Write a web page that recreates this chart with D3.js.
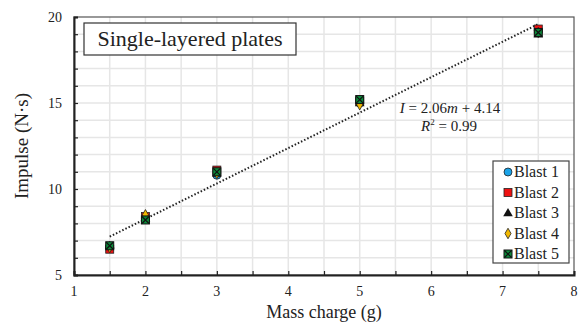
<!DOCTYPE html>
<meta charset="utf-8">
<style>
    body { margin: 0; background: #fff; overflow: hidden; }
</style>
<svg id="canvas" width="579" height="322" font-family="'Liberation Serif', 'Times New Roman', serif"></svg>
<script src="https://d3js.org/d3.v7.min.js"></script>
<script>

    var charges = [1.5, 2, 3, 5, 7.5];
    var seriesNames = ["Blast 1", "Blast 2", "Blast 3", "Blast 4", "Blast 5"];
    var blast1 = [6.6, 8.3, 10.8, 15.0, 19.2];
    var blast2 = [6.5, 8.4, 11.1, 15.1, 19.3];
    var blast3 = [6.7, 8.3, 10.9, 15.0, 19.0];
    var blast4 = [6.6, 8.5, 10.9, 14.9, 19.1];
    var blast5 = [6.7, 8.2, 11.0, 15.2, 19.1];
    var xTicks = [1, 2, 3, 4, 5, 6, 7, 8];
    var yTicks = [5, 10, 15, 20];
    var fitSlope = 2.06, fitIntercept = 4.14, fitR2 = 0.99;

    var serif = "'Liberation Serif', 'Times New Roman', serif";
    var svg = d3.select("svg");
    var margin = {left: 74, right: 5, top: 17, bottom: 47};
    var width = 579, height = 322;

    var x = d3.scaleLinear().domain([1, 8]).range([margin.left, width - margin.right]);
    var y = d3.scaleLinear().domain([5, 20]).range([height - margin.bottom, margin.top]);

    function label(g, px, py, size, anchor) {
        return g.append("text").attr("x", px).attr("y", py)
            .attr("font-family", serif).attr("font-size", size)
            .attr("text-anchor", anchor || "start").attr("fill", "#222");
    }

    // grid
    var grid = svg.append("g");
    grid.selectAll("line.v").data(d3.range(1.5, 8, 0.5)).enter().append("line")
        .attr("x1", d => x(d)).attr("x2", d => x(d))
        .attr("y1", y(5)).attr("y2", y(20))
        .attr("stroke", "#e6e6e6").attr("stroke-width", 1.5);
    grid.selectAll("line.h").data(d3.range(6, 20, 1)).enter().append("line")
        .attr("x1", x(1)).attr("x2", x(8))
        .attr("y1", d => y(d)).attr("y2", d => y(d))
        .attr("stroke", "#e6e6e6").attr("stroke-width", 1.5);

    // frame
    svg.append("rect")
        .attr("x", x(1)).attr("y", y(20))
        .attr("width", x(8) - x(1)).attr("height", y(5) - y(20))
        .attr("fill", "none").attr("stroke", "#555").attr("stroke-width", 1.2);

    // axes
    var xAxis = svg.append("g").attr("transform", "translate(0," + y(5) + ")")
        .call(d3.axisBottom(x).tickValues(d3.range(1, 8.01, 0.5)).tickSize(-4).tickFormat(""));
    xAxis.select(".domain").attr("stroke", "#222").attr("stroke-width", 2);
    xAxis.selectAll(".tick line").attr("stroke", "#222").attr("stroke-width", 1.2);
    var xl = svg.append("g");
    xTicks.forEach(function(d) { label(xl, x(d), y(5) + 21, 14, "middle").text(d); });

    var yAxis = svg.append("g").attr("transform", "translate(" + x(1) + ",0)")
        .call(d3.axisLeft(y).tickValues(d3.range(5, 20.01, 1)).tickSize(-4).tickFormat(""));
    yAxis.select(".domain").attr("stroke", "#222").attr("stroke-width", 2);
    yAxis.selectAll(".tick line").attr("stroke", "#222").attr("stroke-width", 1.2);
    var yl = svg.append("g");
    yTicks.forEach(function(d) { label(yl, x(1) - 12, y(d) + 5, 14, "end").text(d); });

    label(svg, 324, 318, 18, "middle").text("Mass charge (g)");
    label(svg, 0, 0, 19, "middle")
        .attr("transform", "translate(28," + y(12.5) + ") rotate(-90)").text("Impulse (N·s)");

    // trendline
    svg.append("line")
        .attr("x1", x(1.5)).attr("y1", y(fitSlope * 1.5 + fitIntercept))
        .attr("x2", x(7.5)).attr("y2", y(fitSlope * 7.5 + fitIntercept))
        .attr("stroke", "#222").attr("stroke-width", 2).attr("stroke-dasharray", "1.5,2");

    var eq = label(svg, 450, 113, 15, "middle");
    eq.append("tspan").attr("font-style", "italic").text("I");
    eq.append("tspan").text(" = " + fitSlope);
    eq.append("tspan").attr("font-style", "italic").text("m");
    eq.append("tspan").text(" + " + fitIntercept);
    var r2 = label(svg, 449, 131, 15, "middle");
    r2.append("tspan").attr("font-style", "italic").text("R");
    r2.append("tspan").attr("font-size", 9).attr("dy", -6).text("2");
    r2.append("tspan").attr("dy", 6).text(" = " + fitR2);

    // markers
    var series = [
        {name: seriesNames[0], values: blast1, shape: "circle", fill: "#1aa3e8"},
        {name: seriesNames[1], values: blast2, shape: "square", fill: "#ee1111"},
        {name: seriesNames[2], values: blast3, shape: "triangle", fill: "#111"},
        {name: seriesNames[3], values: blast4, shape: "diamond", fill: "#f2b800"},
        {name: seriesNames[4], values: blast5, shape: "xsquare", fill: "#0b8a3a"}
    ];

    function drawMarker(g, s, cx, cy) {
        if (s.shape === "circle") {
            g.append("circle").attr("cx", cx).attr("cy", cy).attr("r", 4)
                .attr("fill", s.fill).attr("stroke", "#222").attr("stroke-width", 0.8);
        } else if (s.shape === "square") {
            g.append("rect").attr("x", cx - 4).attr("y", cy - 4).attr("width", 8).attr("height", 8)
                .attr("fill", s.fill).attr("stroke", "#222").attr("stroke-width", 0.8);
        } else if (s.shape === "triangle") {
            g.append("path").attr("d", d3.symbol(d3.symbolTriangle, 40)())
                .attr("transform", "translate(" + cx + "," + (cy + 0.5) + ")").attr("fill", s.fill);
        } else if (s.shape === "diamond") {
            g.append("path").attr("d", d3.symbol(d3.symbolDiamond, 32)())
                .attr("transform", "translate(" + cx + "," + cy + ")")
                .attr("fill", s.fill).attr("stroke", "#222").attr("stroke-width", 0.8);
        } else {
            g.append("rect").attr("x", cx - 4).attr("y", cy - 4).attr("width", 8).attr("height", 8)
                .attr("fill", s.fill).attr("stroke", "#111").attr("stroke-width", 1);
            g.append("path").attr("d", "M" + (cx - 3.5) + "," + (cy - 3.5) + "L" + (cx + 3.5) + "," + (cy + 3.5) +
                "M" + (cx + 3.5) + "," + (cy - 3.5) + "L" + (cx - 3.5) + "," + (cy + 3.5))
                .attr("stroke", "#111").attr("stroke-width", 1.2);
        }
    }

    var pts = svg.append("g");
    series.forEach(function(s) {
        s.values.forEach(function(v, i) { drawMarker(pts, s, x(charges[i]), y(v)); });
    });

    // title box
    svg.append("rect").attr("x", 84).attr("y", 23).attr("width", 212).attr("height", 32)
        .attr("fill", "#fff").attr("stroke", "#333").attr("stroke-width", 1.2);
    label(svg, 190, 46, 22, "middle").text("Single-layered plates");

    // legend
    var legend = svg.append("g");
    legend.append("rect").attr("x", 493).attr("y", 161).attr("width", 76).attr("height", 102)
        .attr("fill", "#fff").attr("stroke", "#444").attr("stroke-width", 1.2);
    series.forEach(function(s, i) {
        var ly = 172 + i * 20.5;
        drawMarker(legend, s, 508, ly);
        label(legend, 514, ly + 5, 16).text(s.name);
    });

</script>
